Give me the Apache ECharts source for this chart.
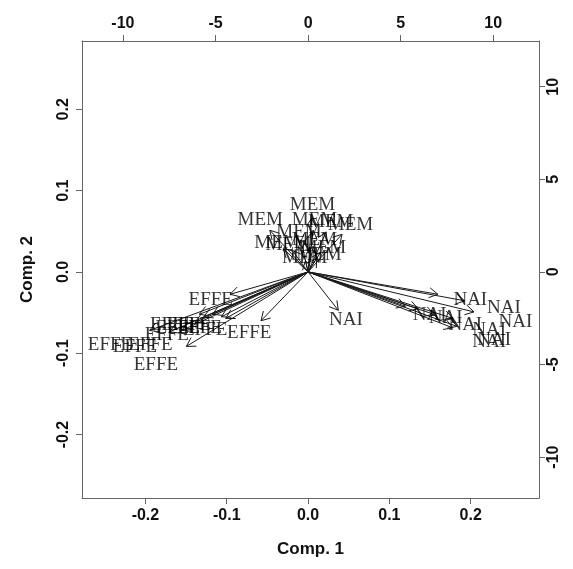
<!DOCTYPE html>
<html>
<head>
<meta charset="utf-8">
<script src="https://cdn.jsdelivr.net/npm/echarts@6/dist/echarts.min.js"></script>
<style>
  html, body { margin: 0; padding: 0; background: #fff; }
  #main { width: 573px; height: 569px; }
</style>
</head>
<body>
<div id="main"></div>
<script>
// loadings (label positions, in units of the top / right axes)
const varNames = [
  'MEM', 'MEM', 'MEM', 'MEM', 'MEM', 'MEM', 'MEM', 'MEM', 'MEM', 'MEM', 'MEM', 'MEM',
  'EFFE', 'EFFE', 'EFFE', 'EFFE', 'EFFE', 'EFFE', 'EFFE', 'EFFE', 'EFFE', 'EFFE', 'EFFE', 'EFFE',
  'NAI', 'NAI', 'NAI', 'NAI', 'NAI', 'NAI', 'NAI', 'NAI', 'NAI', 'NAI'
]
const comp1 = [
  0.24, -2.58, 2.29, 0.34, 1.22, -0.49, -1.68, 0.34, 0.83, -1.08, -0.18, 0.58,
  -5.26, -3.18, -7.34, -6.45, -5.85, -7.04, -7.63, -8.52, -10.7, -9.35, -8.22, -5.56,
  2.04, 6.57, 7.43, 8.76, 10.57, 11.2, 8.49, 9.78, 10.05, 9.78
]
const comp2 = [
  3.62, 2.81, 2.54, 2.81, 2.7, 2.16, 1.57, 1.73, 1.3, 1.46, 0.76, 0.92,
  -1.51, -3.3, -2.86, -2.86, -3.03, -3.03, -3.41, -3.95, -3.95, -4.05, -5.03, -3.14,
  -2.59, -2.32, -2.49, -1.51, -1.95, -2.7, -2.86, -3.14, -3.68, -3.78
]

// axis ticks
const compTicks = [-0.2, -0.1, 0, 0.1, 0.2]
const loadTicks = [-10, -5, 0, 5, 10]
const compRange = [-0.278, 0.284]
const loadRange = [-12.21, 12.47]

const chartBox = echarts.init(document.getElementById('main'))

const points = varNames.map((n, i) => ({ name: n, value: [comp1[i], comp2[i]] }))

const axisCol = '#666'
const tickFont = { color: '#111', fontSize: 16, fontWeight: 'bold', fontFamily: 'Liberation Sans' }
const titleFont = { color: '#111', fontSize: 17, fontWeight: 'bold', fontFamily: 'Liberation Sans' }

const option = {
  animation: false,
  backgroundColor: '#fff',
  grid: { left: 82, right: 34, top: 41, bottom: 71 },
  xAxis: [
    {
      type: 'value', position: 'bottom', min: compRange[0], max: compRange[1],
      name: 'Comp. 1', nameLocation: 'middle', nameGap: 43, nameTextStyle: titleFont,
      axisLine: { show: true, onZero: false, lineStyle: { color: axisCol } },
      axisTick: { show: true, length: 6, lineStyle: { color: axisCol }, customValues: compTicks },
      axisLabel: { ...tickFont, margin: 10, customValues: compTicks, formatter: v => v.toFixed(1) },
      splitLine: { show: false }
    },
    {
      type: 'value', position: 'top', min: loadRange[0], max: loadRange[1],
      axisLine: { show: true, onZero: false, lineStyle: { color: axisCol } },
      axisTick: { show: true, length: 6, lineStyle: { color: axisCol }, customValues: loadTicks },
      axisLabel: { ...tickFont, margin: 9, customValues: loadTicks },
      splitLine: { show: false }
    }
  ],
  yAxis: [
    {
      type: 'value', position: 'left', min: compRange[0], max: compRange[1],
      name: 'Comp. 2', nameLocation: 'middle', nameGap: 46, nameTextStyle: titleFont,
      axisLine: { show: true, onZero: false, lineStyle: { color: axisCol } },
      axisTick: { show: true, length: 6, lineStyle: { color: axisCol }, customValues: compTicks },
      axisLabel: { ...tickFont, margin: 10, rotate: 90, customValues: compTicks, formatter: v => v.toFixed(1) },
      splitLine: { show: false }
    },
    {
      type: 'value', position: 'right', min: loadRange[0], max: loadRange[1],
      axisLine: { show: true, onZero: false, lineStyle: { color: axisCol } },
      axisTick: { show: true, length: 6, lineStyle: { color: axisCol }, customValues: loadTicks },
      axisLabel: { ...tickFont, margin: 7, rotate: 90, customValues: loadTicks },
      splitLine: { show: false }
    }
  ],
  series: [
    {
      // arrows drawn to 80% of the loading, like biplot()
      type: 'custom',
      xAxisIndex: 1,
      yAxisIndex: 1,
      data: points,
      silent: true,
      renderItem: function (params, api) {
        const o = api.coord([0, 0])
        const t = api.coord([api.value(0) * 0.8, api.value(1) * 0.8])
        const ang = Math.atan2(t[1] - o[1], t[0] - o[0])
        const len = 10
        const spread = Math.PI / 6
        const h1 = [t[0] - len * Math.cos(ang - spread), t[1] - len * Math.sin(ang - spread)]
        const h2 = [t[0] - len * Math.cos(ang + spread), t[1] - len * Math.sin(ang + spread)]
        const style = { stroke: '#1a1a1a', lineWidth: 1, fill: null }
        return {
          type: 'group',
          children: [
            { type: 'polyline', shape: { points: [o, t] }, style: style },
            { type: 'polyline', shape: { points: [h1, t, h2] }, style: style }
          ]
        }
      }
    },
    {
      type: 'scatter',
      xAxisIndex: 1,
      yAxisIndex: 1,
      data: points,
      symbolSize: 1,
      itemStyle: { color: 'rgba(0,0,0,0)' },
      silent: true,
      label: {
        show: true,
        position: 'inside',
        formatter: p => p.name,
        color: '#000',
        fontSize: 19,
        fontFamily: 'Liberation Serif'
      }
    }
  ]
}
chartBox.setOption(option)
</script>
</body>
</html>
